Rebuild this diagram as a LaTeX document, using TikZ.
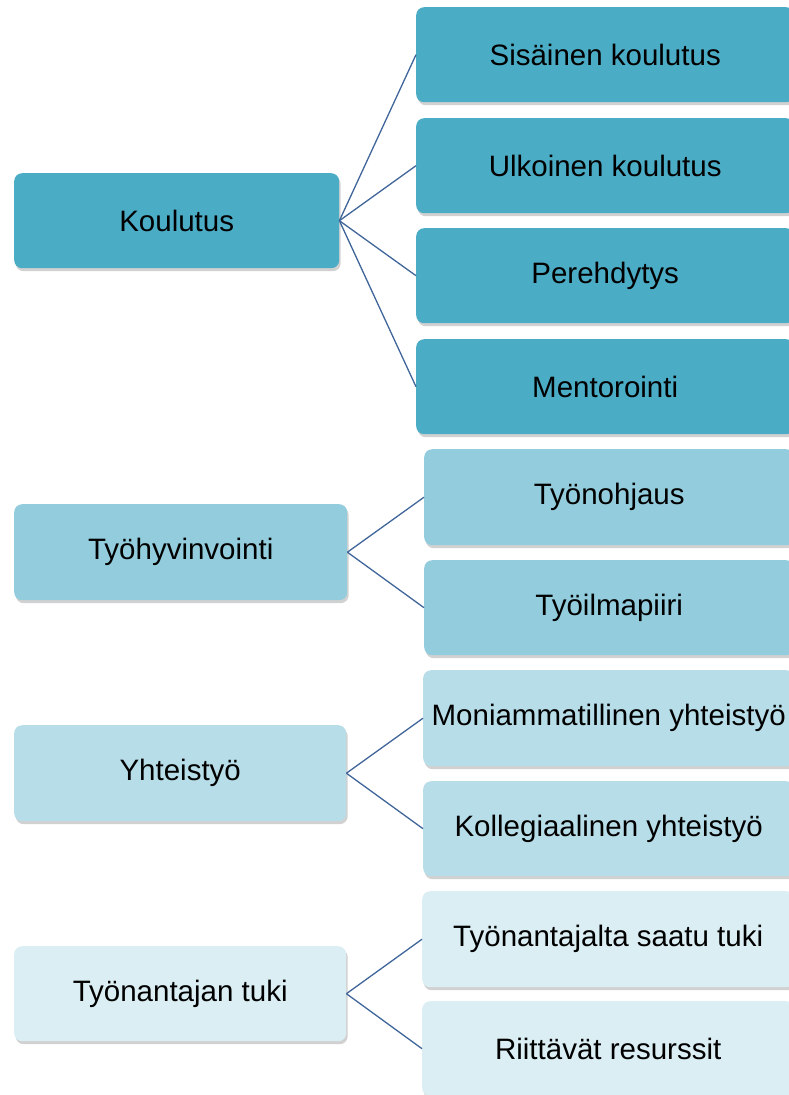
\documentclass[tikz,border=0pt]{standalone}
\usepackage{fontspec}
\setmainfont{Liberation Sans}
\usetikzlibrary{shadows}
\definecolor{cA}{HTML}{4BACC6}
\definecolor{cB}{HTML}{93CDDD}
\definecolor{cC}{HTML}{B7DDE8}
\definecolor{cD}{HTML}{DAEEF3}
\definecolor{lineC}{HTML}{3F6599}
\tikzset{
  box/.style={rounded corners=8pt, anchor=north west, inner sep=0pt, align=center,
    font=\fontsize{29.5}{33}\selectfont, text=black,
    drop shadow={shadow xshift=1.5pt, shadow yshift=-3pt, opacity=0.3, fill=black!60}},
  conn/.style={draw=lineC, line width=1.3pt},
}
\begin{document}
\begin{tikzpicture}[x=1pt,y=-1pt]
\useasboundingbox (0,0) rectangle (789,1095);
\clip (0,0) rectangle (789,1095);
% left column
\node[box, fill=cA, minimum width=325pt, minimum height=95pt] (k) at (14,173) {Koulutus};
\node[box, fill=cB, minimum width=333pt, minimum height=96pt] (t) at (14,504) {Työhyvinvointi};
\node[box, fill=cC, minimum width=332pt, minimum height=96pt] (y) at (14,725) {Yhteistyö};
\node[box, fill=cD, minimum width=332pt, minimum height=95pt] (n) at (14,946) {Työnantajan tuki};
% right column
\node[box, fill=cA, minimum width=378pt, minimum height=95pt] (k1) at (416,7) {Sisäinen koulutus};
\node[box, fill=cA, minimum width=378pt, minimum height=95pt] (k2) at (416,118) {Ulkoinen koulutus};
\node[box, fill=cA, minimum width=378pt, minimum height=95pt] (k3) at (416,228) {Perehdytys};
\node[box, fill=cA, minimum width=378pt, minimum height=95pt] (k4) at (416,339) {Mentorointi};
\node[box, fill=cB, minimum width=370pt, minimum height=96pt] (t1) at (424,449) {Työnohjaus};
\node[box, fill=cB, minimum width=370pt, minimum height=95pt] (t2) at (424,560) {Työilmapiiri};
\node[box, fill=cC, minimum width=371pt, minimum height=96pt] (y1) at (423,670) {Moniammatillinen yhteistyö};
\node[box, fill=cC, minimum width=371pt, minimum height=95pt] (y2) at (423,781) {Kollegiaalinen yhteistyö};
\node[box, fill=cD, minimum width=372pt, minimum height=96pt] (n1) at (422,891) {Työnantajalta saatu tuki};
\node[box, fill=cD, minimum width=372pt, minimum height=95pt] (n2) at (422,1001) {Riittävät resurssit};
% connectors
\foreach \a/\b in {k/k1,k/k2,k/k3,k/k4,t/t1,t/t2,y/y1,y/y2,n/n1,n/n2}
  \draw[conn] (\a.east) -- (\b.west);
\end{tikzpicture}
\end{document}
